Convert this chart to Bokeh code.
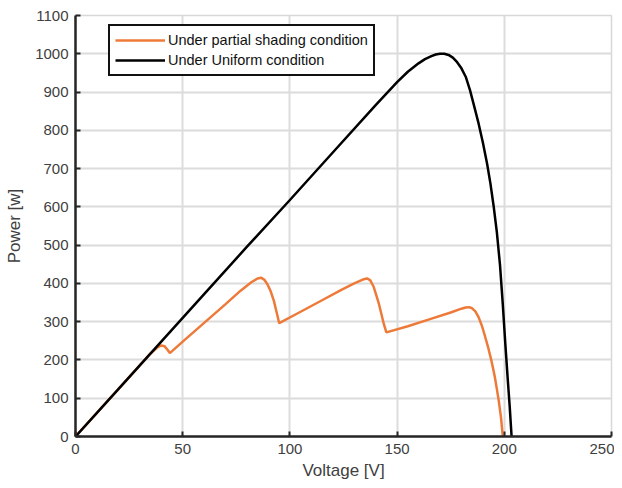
from bokeh.plotting import figure
from bokeh.models import Range1d, FixedTicker, Legend, LegendItem
from bokeh.embed import file_html
from bokeh.resources import INLINE

# Uniform condition (black)
v_uniform = [0, 20, 40, 60, 80, 100, 120, 140, 150, 155, 160, 163, 166, 168, 170, 172, 174, 176, 178, 180, 182, 184, 186, 188, 190, 192, 193.5, 195, 196.5, 198, 199.3, 200.5, 201.6, 202.5, 203.4]
p_uniform = [0, 124, 248, 372, 496, 618, 742, 866, 926, 953, 975, 986, 994, 998, 1000, 1000, 997, 990, 978, 962, 940, 905, 862, 818, 768, 712, 662, 603, 535, 448, 345, 240, 150, 80, 0]

# Partial shading condition (orange)
v_shade = [0, 20, 35, 38, 40, 41.5, 43, 44, 50, 60, 70, 77, 82, 85, 86.5, 88, 89.5, 91, 92.5, 94, 95, 105, 115, 124, 130, 134, 136, 137.5, 139, 141.5, 143.8, 145, 155, 165, 175, 180, 182, 183.5, 185, 186.5, 188, 189.5, 191, 192.5, 194, 195.5, 196.5, 197.5, 198.5, 199.3]
p_shade = [0, 124, 217, 232, 238, 236, 226, 218, 248, 297, 346, 381, 403, 413, 415, 410, 398, 380, 355, 320, 296, 326, 356, 383, 400, 410, 413, 408, 392, 347, 294, 272, 288, 306, 324, 334, 337, 338, 335, 327, 312, 290, 262, 232, 198, 158, 125, 90, 48, 0]

x_ticks = [0, 50, 100, 150, 200, 250]
y_ticks = list(range(0, 1101, 100))

p = figure(width=614, height=486, output_backend="svg", toolbar_location=None,
           x_range=Range1d(0, 250), y_range=Range1d(0, 1100),
           min_border_left=75, min_border_right=3, min_border_top=15, min_border_bottom=50)

r1 = p.line(v_shade, p_shade, line_color="#EE7A3A", line_width=2.5)
r2 = p.line(v_uniform, p_uniform, line_color="#000000", line_width=2.5)

p.xaxis.ticker = FixedTicker(ticks=x_ticks)
p.yaxis.ticker = FixedTicker(ticks=y_ticks)
p.xaxis.axis_label = "Voltage [V]"
p.yaxis.axis_label = "Power [w]"

for ax in (p.xaxis[0], p.yaxis[0]):
    ax.axis_line_color = "#262626"
    ax.axis_line_width = 2.5
    ax.major_tick_in = 5
    ax.major_tick_out = 0
    ax.major_tick_line_color = "#262626"
    ax.major_tick_line_width = 2
    ax.minor_tick_line_color = None
    ax.major_label_text_font = "Liberation Sans"
    ax.major_label_text_font_size = "15px"
    ax.major_label_text_color = "#404040"
    ax.axis_label_text_font = "Liberation Sans"
    ax.axis_label_text_font_size = "17px"
    ax.axis_label_text_font_style = "normal"
    ax.axis_label_text_color = "#404040"

p.xaxis.major_label_standoff = 7
p.yaxis.major_label_standoff = 7
p.xaxis.axis_label_standoff = 4
p.yaxis.axis_label_standoff = 8

p.grid.grid_line_color = "#dcdcdc"
p.grid.grid_line_width = 2
p.outline_line_color = "#d8d8d8"
p.outline_line_width = 1.5
p.background_fill_color = "white"
p.border_fill_color = "white"

legend = Legend(items=[LegendItem(label="Under partial shading condition", renderers=[r1]),
                       LegendItem(label="Under Uniform condition", renderers=[r2])],
                location=(33, 360))
legend.border_line_color = "#111111"
legend.border_line_alpha = 1.0
legend.border_line_width = 2
legend.background_fill_alpha = 1.0
legend.label_text_font = "Liberation Sans"
legend.label_text_font_size = "14.5px"
legend.label_text_color = "#111111"
legend.glyph_width = 50
legend.glyph_height = 18
legend.label_height = 18
legend.spacing = 2
legend.padding = 5
legend.margin = 0
legend.label_standoff = 3
p.add_layout(legend, "center")

open("out.html", "w").write(file_html(p, INLINE))
